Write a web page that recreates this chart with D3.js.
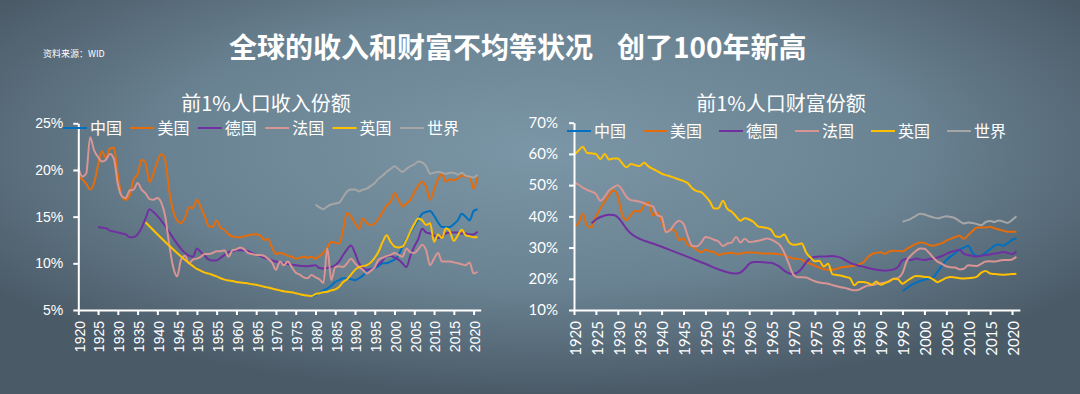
<!DOCTYPE html>
<html><head><meta charset="utf-8">
<script src="https://cdn.jsdelivr.net/npm/d3@7/dist/d3.min.js"></script>
<style>html,body{margin:0;padding:0;background:#5d7080;}svg{display:block;}</style>
</head><body><svg id="c" width="1080" height="394"></svg>
<script>
// ---------- data ----------
const countries = ["中国","美国","德国","法国","英国","世界"];
const colors = ["#0070c0","#e46c0a","#7030a0","#d99594","#ffc000","#a6a6a6"];
const yearTicks = d3.range(1920, 2021, 5);
const incomeTicks = [5,10,15,20,25];
const wealthTicks = [10,20,30,40,50,60,70];
const titleParts = ["全球的收入和财富不均等状况","创了100年新高"];

// 前1%人口收入份额 (%)
const incomeCN = [[1979.5,6.5],[1980,6.6],[1981,6.8],[1982,7.1],[1983,7.3],[1984,7.6],[1985,8.0],[1986,8.2],[1987,8.4],[1988,8.4],[1989,8.3],[1990,8.2],[1991,8.4],[1992,8.7],[1993,9.2],[1994,9.4],[1995,9.5],[1996,9.7],[1997,10.0],[1998,10.0],[1999,10.2],[2000,10.4],[2001,10.9],[2002,11.8],[2003,12.6],[2004,13.3],[2005,14.0],[2006,14.7],[2007,15.3],[2008,15.5],[2009,15.6],[2010,15.1],[2011,14.4],[2012,13.9],[2013,13.9],[2014,13.9],[2015,14.2],[2016,14.6],[2017,15.3],[2018,15.0],[2019,14.6],[2020,15.6],[2021,15.8]];
const incomeUS = [[1920,19.3],[1921,19.0],[1922,18.5],[1923,17.9],[1924,18.6],[1925,20.5],[1926,22.0],[1927,21.3],[1928,22.3],[1929,22.4],[1930,19.5],[1931,17.2],[1932,16.8],[1933,17.3],[1934,19.0],[1935,19.5],[1936,21.1],[1937,20.8],[1938,18.7],[1939,19.6],[1940,20.9],[1941,21.7],[1942,21.0],[1943,17.8],[1944,15.6],[1945,14.6],[1946,14.3],[1947,14.9],[1948,16.0],[1949,15.9],[1950,16.8],[1951,16.0],[1952,15.0],[1953,14.0],[1954,13.9],[1955,14.6],[1956,13.8],[1957,13.6],[1958,13.1],[1959,12.9],[1960,12.8],[1961,12.8],[1962,12.9],[1963,13.0],[1964,13.1],[1965,13.1],[1966,13.0],[1967,12.5],[1968,12.6],[1969,11.7],[1970,11.0],[1971,11.1],[1972,11.0],[1973,10.8],[1974,10.7],[1975,10.5],[1976,10.6],[1977,10.7],[1978,10.6],[1979,10.7],[1980,10.5],[1981,10.8],[1982,11.1],[1983,11.7],[1984,12.3],[1985,12.2],[1986,12.1],[1987,13.6],[1988,15.4],[1989,15.0],[1990,14.3],[1991,13.7],[1992,14.8],[1993,14.3],[1994,14.1],[1995,14.3],[1996,14.8],[1997,15.5],[1998,16.2],[1999,16.6],[2000,17.5],[2001,16.8],[2002,16.1],[2003,16.4],[2004,16.8],[2005,17.6],[2006,18.3],[2007,18.75],[2008,18.2],[2009,16.8],[2010,17.9],[2011,19.0],[2012,19.6],[2013,18.75],[2014,19.0],[2015,18.9],[2016,19.1],[2017,19.4],[2018,19.3],[2019,19.3],[2020,18.0],[2021,19.3]];
const incomeDE = [[1925,13.9],[1926,13.8],[1927,13.75],[1928,13.5],[1929,13.4],[1930,13.3],[1931,13.2],[1932,13.1],[1933,12.8],[1934,12.8],[1935,13.1],[1936,13.8],[1937,14.8],[1938,15.8],[1939,15.5],[1949,10.7],[1950,11.6],[1951,11.2],[1952,10.8],[1953,10.4],[1954,10.3],[1955,10.3],[1956,10.6],[1957,10.9],[1958,11.2],[1959,11.3],[1960,11.4],[1961,11.4],[1962,11.4],[1963,11.3],[1964,11.1],[1965,10.9],[1966,10.8],[1967,10.6],[1968,10.5],[1969,10.3],[1970,10.2],[1971,10.1],[1972,10.0],[1975,9.8],[1978,9.7],[1980,9.8],[1981,9.5],[1982,9.45],[1984,9.6],[1985,9.8],[1986,10.2],[1987,10.9],[1988,11.5],[1989,11.9],[1990,11.1],[1991,10.0],[1992,9.5],[1993,9.3],[1994,9.3],[1995,9.6],[1996,9.9],[1997,10.3],[1998,10.8],[1999,10.8],[2000,10.6],[2001,10.4],[2002,10.0],[2003,9.6],[2004,10.8],[2005,11.8],[2006,12.6],[2007,13.7],[2008,13.3],[2009,13.2],[2010,13.0],[2011,12.7],[2012,12.9],[2013,13.2],[2014,13.3],[2015,13.3],[2016,13.3],[2017,13.2],[2018,13.2],[2019,13.1],[2020,13.1],[2021,13.4]];
const incomeFR = [[1920,20.3],[1921,19.3],[1922,19.6],[1923,23.5],[1924,22.1],[1925,21.4],[1926,20.9],[1927,21.1],[1928,21.7],[1929,21.2],[1930,18.5],[1931,17.2],[1932,17.0],[1933,17.8],[1934,17.9],[1935,18.6],[1936,17.9],[1937,17.5],[1938,16.9],[1939,16.8],[1940,17.0],[1941,16.5],[1942,15.0],[1943,12.0],[1944,9.6],[1945,8.6],[1946,10.4],[1947,10.8],[1948,10.0],[1949,10.4],[1950,10.5],[1951,10.7],[1952,11.0],[1953,11.0],[1954,11.1],[1955,11.3],[1956,11.3],[1957,11.4],[1958,10.7],[1959,11.4],[1960,11.5],[1961,11.7],[1962,11.5],[1963,11.1],[1964,11.0],[1965,10.9],[1966,10.9],[1967,10.8],[1968,10.5],[1969,10.1],[1970,9.3],[1971,10.2],[1972,9.8],[1973,10.2],[1974,9.6],[1975,9.0],[1976,8.8],[1977,8.5],[1978,8.4],[1979,8.75],[1980,8.5],[1981,8.3],[1982,7.9],[1983,11.6],[1984,8.2],[1985,9.6],[1986,9.7],[1987,9.6],[1988,10.0],[1989,10.5],[1990,10.0],[1991,9.6],[1992,9.3],[1993,8.9],[1994,9.2],[1995,9.6],[1996,10.4],[1997,10.6],[1998,10.8],[1999,10.9],[2000,11.1],[2001,10.9],[2002,10.7],[2003,11.6],[2004,11.2],[2005,11.1],[2006,11.5],[2007,12.0],[2008,11.4],[2009,9.8],[2010,10.5],[2011,11.1],[2012,10.2],[2013,10.2],[2014,10.2],[2015,10.1],[2016,10.0],[2017,9.9],[2018,9.8],[2019,10.1],[2020,8.9],[2021,9.1]];
const incomeUK = [[1937,14.4],[1949,9.7],[1950,9.4],[1951,9.2],[1952,9.0],[1953,8.9],[1954,8.75],[1955,8.6],[1956,8.4],[1957,8.25],[1958,8.15],[1959,8.1],[1960,8.0],[1961,7.95],[1962,7.9],[1963,7.85],[1964,7.75],[1965,7.7],[1966,7.6],[1967,7.5],[1968,7.4],[1969,7.3],[1970,7.2],[1971,7.1],[1972,7.0],[1973,6.95],[1974,6.9],[1975,6.8],[1976,6.7],[1977,6.6],[1978,6.55],[1979,6.5],[1980,6.7],[1981,6.8],[1982,6.9],[1983,6.95],[1984,7.1],[1985,7.2],[1986,7.5],[1987,8.0],[1988,8.3],[1989,8.8],[1990,9.3],[1991,9.6],[1992,9.7],[1993,9.8],[1994,10.1],[1995,10.6],[1996,11.3],[1997,12.3],[1998,13.0],[1999,12.3],[2000,11.8],[2001,11.7],[2002,11.8],[2003,12.5],[2004,13.4],[2005,14.2],[2006,14.8],[2007,14.6],[2008,14.1],[2009,14.3],[2010,12.3],[2011,13.1],[2012,12.7],[2013,13.75],[2014,13.4],[2015,12.4],[2016,13.0],[2017,13.6],[2018,13.0],[2019,12.9],[2020,12.8],[2021,12.8]];
const incomeWD = [[1980,16.3],[1981,16.0],[1982,15.8],[1983,16.1],[1984,16.3],[1985,16.4],[1986,16.5],[1987,17.1],[1988,17.7],[1989,17.9],[1990,17.9],[1991,17.7],[1992,17.9],[1993,18.0],[1994,18.3],[1995,18.6],[1996,19.1],[1997,19.4],[1998,19.8],[1999,20.1],[2000,20.4],[2001,20.1],[2002,19.8],[2003,20.1],[2004,20.4],[2005,20.6],[2006,20.9],[2007,20.8],[2008,20.4],[2009,19.6],[2010,19.7],[2011,19.8],[2012,19.7],[2013,19.6],[2014,19.7],[2015,19.7],[2016,19.5],[2017,19.7],[2018,19.4],[2019,19.3],[2020,19.2],[2021,19.5]];

// 前1%人口财富份额 (%)
const wealthCN = [[1995,16.0],[1996,17.0],[1997,18.0],[1998,18.7],[1999,19.3],[2000,19.7],[2001,20.1],[2002,20.5],[2003,22.3],[2004,24.2],[2005,26.0],[2006,27.2],[2007,28.2],[2008,29.3],[2009,30.0],[2010,30.6],[2011,28.3],[2012,27.3],[2013,27.5],[2014,28.4],[2015,29.5],[2016,30.6],[2017,31.0],[2018,30.6],[2019,31.4],[2020,32.5],[2021,32.9]];
const wealthUS = [[1920,36.7],[1921,37.8],[1922,40.8],[1923,37.0],[1924,36.5],[1925,40.0],[1926,42.5],[1927,44.7],[1928,46.8],[1929,48.4],[1930,46.5],[1931,40.5],[1932,38.8],[1933,40.5],[1934,41.8],[1935,41.5],[1936,43.5],[1937,44.5],[1938,40.3],[1939,41.3],[1940,38.5],[1941,35.1],[1942,35.8],[1943,35.4],[1944,32.4],[1945,33.0],[1946,30.8],[1947,30.4],[1948,29.3],[1949,28.5],[1950,29.3],[1951,28.8],[1952,28.6],[1953,27.6],[1954,28.0],[1955,28.2],[1956,28.3],[1957,28.0],[1958,28.0],[1959,28.4],[1960,28.4],[1961,28.4],[1962,28.3],[1963,28.1],[1964,28.1],[1965,28.1],[1966,28.0],[1967,27.9],[1968,27.6],[1969,27.0],[1970,26.5],[1971,26.4],[1972,26.1],[1973,25.3],[1974,24.8],[1975,24.2],[1976,23.6],[1977,23.1],[1978,22.9],[1979,22.9],[1980,23.2],[1981,23.7],[1982,23.8],[1983,24.0],[1984,24.2],[1985,24.6],[1986,25.2],[1987,26.8],[1988,27.9],[1989,28.3],[1990,28.5],[1991,28.0],[1992,28.8],[1993,29.0],[1994,28.9],[1995,28.8],[1996,29.6],[1997,30.4],[1998,31.1],[1999,31.6],[2000,31.5],[2001,30.8],[2002,30.6],[2003,31.0],[2004,31.4],[2005,32.2],[2006,32.8],[2007,33.4],[2008,33.8],[2009,32.8],[2010,34.0],[2011,35.3],[2012,36.4],[2013,36.4],[2014,36.4],[2015,36.7],[2016,36.2],[2017,35.8],[2018,35.4],[2019,35.1],[2020,35.1],[2021,35.1]];
const wealthDE = [[1924,37.8],[1925,39.0],[1926,39.8],[1927,40.3],[1928,40.5],[1929,40.4],[1930,39.7],[1931,38.0],[1932,36.0],[1933,34.5],[1934,33.5],[1935,32.8],[1938,31.3],[1942,29.2],[1946,27.0],[1950,24.8],[1953,23.0],[1956,21.8],[1957,21.7],[1958,22.0],[1959,23.2],[1960,24.8],[1961,25.4],[1962,25.4],[1963,25.3],[1964,25.2],[1965,25.1],[1966,24.6],[1967,23.8],[1968,22.6],[1969,21.8],[1970,21.6],[1971,22.0],[1972,23.3],[1973,25.3],[1974,26.6],[1975,27.0],[1976,27.1],[1977,27.1],[1978,27.2],[1979,27.3],[1980,27.1],[1981,26.7],[1982,25.9],[1983,25.2],[1984,24.6],[1985,24.2],[1986,23.9],[1987,23.5],[1988,23.2],[1989,22.9],[1990,22.7],[1991,22.6],[1992,22.7],[1993,23.0],[1994,23.8],[1995,26.0],[1996,26.3],[1997,26.0],[1998,26.5],[1999,26.2],[2000,26.0],[2001,26.3],[2002,26.5],[2003,26.8],[2004,27.3],[2005,28.0],[2006,28.6],[2007,29.0],[2008,29.3],[2009,28.0],[2010,27.6],[2011,27.3],[2012,27.1],[2013,27.4],[2014,27.6],[2015,27.8],[2016,28.1],[2017,28.3],[2018,28.6],[2019,28.3],[2020,27.9],[2021,28.7]];
const wealthFR = [[1920,51.0],[1921,50.2],[1922,49.2],[1923,48.5],[1924,47.9],[1925,47.2],[1926,45.0],[1927,46.3],[1928,48.3],[1929,49.3],[1930,50.0],[1931,48.5],[1932,46.2],[1933,45.2],[1934,45.0],[1935,44.7],[1936,44.2],[1937,43.6],[1938,43.2],[1939,40.4],[1940,39.8],[1941,34.9],[1942,35.6],[1943,37.6],[1944,38.6],[1945,37.6],[1946,33.6],[1947,30.5],[1948,30.4],[1949,31.5],[1950,33.4],[1951,33.1],[1952,32.5],[1953,31.9],[1954,30.5],[1955,31.3],[1956,31.6],[1957,33.4],[1958,31.6],[1959,32.8],[1960,31.8],[1961,31.9],[1962,32.2],[1963,32.5],[1964,32.9],[1965,32.6],[1966,31.8],[1967,30.8],[1968,28.4],[1969,25.0],[1970,21.5],[1971,20.5],[1972,20.5],[1973,20.4],[1974,19.8],[1975,19.2],[1976,18.8],[1977,18.6],[1978,18.4],[1979,18.0],[1980,17.6],[1981,17.3],[1982,17.0],[1983,16.6],[1984,16.3],[1985,16.5],[1986,17.2],[1987,17.8],[1988,18.0],[1989,18.3],[1990,18.6],[1991,18.8],[1992,19.3],[1993,20.0],[1994,20.3],[1995,21.8],[1996,25.8],[1997,27.6],[1998,28.8],[1999,29.7],[2000,29.6],[2001,28.4],[2002,26.8],[2003,25.5],[2004,24.8],[2005,24.0],[2006,23.7],[2007,23.6],[2008,23.0],[2009,23.2],[2010,24.3],[2011,24.2],[2012,24.1],[2013,24.8],[2014,25.5],[2015,25.6],[2016,25.5],[2017,25.8],[2018,26.0],[2019,26.0],[2020,26.2],[2021,27.0]];
const wealthUK = [[1920,59.7],[1921,61.0],[1922,62.3],[1923,60.3],[1924,60.2],[1925,60.0],[1926,58.3],[1927,60.0],[1928,58.2],[1929,58.5],[1930,58.5],[1931,57.0],[1932,55.7],[1933,56.8],[1934,56.4],[1935,56.1],[1936,57.2],[1937,56.0],[1938,55.2],[1939,54.5],[1940,53.7],[1941,53.2],[1942,52.8],[1943,52.3],[1944,51.8],[1945,51.3],[1946,50.6],[1947,49.0],[1948,48.1],[1949,47.8],[1950,46.5],[1951,44.8],[1952,42.5],[1953,42.6],[1954,45.0],[1955,42.4],[1956,41.5],[1957,40.0],[1958,38.6],[1959,39.4],[1960,39.0],[1961,38.2],[1962,36.8],[1963,36.5],[1964,36.3],[1965,35.7],[1966,33.6],[1967,33.4],[1968,34.2],[1969,31.8],[1970,30.9],[1971,31.0],[1972,31.3],[1973,28.4],[1974,26.8],[1975,25.6],[1976,25.8],[1977,23.9],[1978,24.8],[1979,21.5],[1980,21.2],[1981,21.0],[1982,20.6],[1983,20.2],[1984,17.9],[1985,19.0],[1986,19.0],[1987,18.7],[1988,18.1],[1989,19.1],[1990,18.1],[1991,18.6],[1992,19.2],[1993,20.0],[1994,19.8],[1995,18.4],[1996,19.3],[1997,20.2],[1998,20.9],[1999,20.8],[2000,20.6],[2001,20.5],[2002,19.8],[2003,18.9],[2004,19.6],[2005,20.3],[2006,20.6],[2007,20.4],[2008,20.2],[2009,20.1],[2010,20.2],[2011,20.3],[2012,20.7],[2013,22.0],[2014,22.5],[2015,21.7],[2016,21.5],[2017,21.4],[2018,21.3],[2019,21.4],[2020,21.5],[2021,21.6]];
const wealthWD = [[1995,38.3],[1996,38.7],[1997,39.3],[1998,40.1],[1999,40.8],[2000,40.6],[2001,40.1],[2002,39.7],[2003,39.4],[2004,39.7],[2005,40.0],[2006,39.8],[2007,39.4],[2008,38.5],[2009,37.7],[2010,38.0],[2011,37.9],[2012,37.5],[2013,37.2],[2014,38.2],[2015,38.5],[2016,38.2],[2017,38.7],[2018,38.3],[2019,37.9],[2020,38.8],[2021,40.0]];

const incomeSeries = [incomeCN, incomeUS, incomeDE, incomeFR, incomeUK, incomeWD];
const wealthSeries = [wealthCN, wealthUS, wealthDE, wealthFR, wealthUK, wealthWD];

// ---------- drawing ----------
const svg = d3.select("#c");
const defs = svg.append("defs");
const grad = defs.append("radialGradient").attr("id","bg")
  .attr("cx","50%").attr("cy","38%").attr("r","62%");
grad.append("stop").attr("offset","0%").attr("stop-color","#7b96a6");
grad.append("stop").attr("offset","55%").attr("stop-color","#6a8393");
grad.append("stop").attr("offset","100%").attr("stop-color","#4b5a67");
svg.append("rect").attr("width",1080).attr("height",394).attr("fill","url(#bg)");

const CJK = "'Noto Sans CJK SC','Noto Sans',sans-serif";

svg.append("text").attr("x",43).attr("y",57)
  .attr("font-family",CJK).attr("font-size",9).attr("fill","#ffffff")
  .text("资料来源：WID");

const title = svg.append("text").attr("x",229).attr("y",58)
  .attr("font-family",CJK).attr("font-size",28).attr("font-weight",700)
  .attr("fill","#ffffff");
title.append("tspan").text(titleParts[0]);
title.append("tspan").attr("dx",24).text(titleParts[1]);

function drawChart(cfg){
  const g = svg.append("g");
  const x = d3.scaleLinear().domain([1920, 2021.8]).range([cfg.x0, cfg.x1]);
  const y = d3.scaleLinear().domain(cfg.yDomain).range([cfg.yBottom, cfg.yTop]);

  g.append("text").attr("x",cfg.titleX).attr("y",cfg.titleY).attr("text-anchor","middle")
    .attr("font-family",CJK).attr("font-size",20).attr("fill","#ffffff")
    .text(cfg.title);

  const line = d3.line().x(d=>x(d[0])).y(d=>y(d[1])).curve(d3.curveMonotoneX);
  g.selectAll("path.series").data(cfg.series).join("path")
    .attr("class","series").attr("d",line).attr("fill","none")
    .attr("stroke",(d,i)=>colors[i]).attr("stroke-width",2)
    .attr("stroke-linejoin","round");

  // axes
  const yAxis = d3.axisLeft(y).tickValues(cfg.yTicks).tickFormat(d=>d+"%")
    .tickSize(5).tickSizeOuter(0).tickPadding(cfg.yPad);
  const ga = g.append("g").attr("transform",`translate(${cfg.x0},0)`).call(yAxis);
  const xAxis = d3.axisBottom(x).tickValues(yearTicks).tickFormat(d3.format("d"))
    .tickSize(5).tickSizeOuter(0);
  const gx = g.append("g").attr("transform",`translate(0,${cfg.yBottom})`).call(xAxis);
  gx.selectAll("text").attr("transform","rotate(-90)").attr("x",-11).attr("y",1)
    .attr("dy","0.35em").style("text-anchor","end");
  [ga,gx].forEach(a=>{
    a.selectAll("path,line").attr("stroke","#ffffff").attr("stroke-width",2);
    a.selectAll("text").attr("fill","#ffffff").attr("font-family",cfg.tickFont)
      .attr("font-size",cfg.tickSize);
  });

  // legend
  const lg = g.append("g").selectAll("g").data(countries).join("g")
    .attr("transform",(d,i)=>`translate(${cfg.legX + i*cfg.legStep},${cfg.legY})`);
  lg.append("line").attr("x1",0).attr("x2",24).attr("y1",0).attr("y2",0)
    .attr("stroke",(d,i)=>colors[i]).attr("stroke-width",2);
  lg.append("text").attr("x",27).attr("y",0).attr("dy","0.36em")
    .attr("font-family",CJK).attr("font-size",16).attr("fill","#ffffff").text(d=>d);
}

drawChart({
  series: incomeSeries, title:"前1%人口收入份额", titleX:266, titleY:111,
  x0:78.3, x1:480.7, yDomain:[5,25], yBottom:310, yTop:123.3, yTicks:incomeTicks,
  yPad:10, tickFont:"'Liberation Sans',Arial,sans-serif", tickSize:14,
  legX:63, legStep:67.4, legY:128
});
drawChart({
  series: wealthSeries, title:"前1%人口财富份额", titleX:781, titleY:111,
  x0:574, x1:1019.9, yDomain:[10,70], yBottom:310, yTop:122.7, yTicks:wealthTicks,
  yPad:11, tickFont:"Lato,'Open Sans',sans-serif", tickSize:15,
  legX:567, legStep:76, legY:131
});
</script></body></html>
